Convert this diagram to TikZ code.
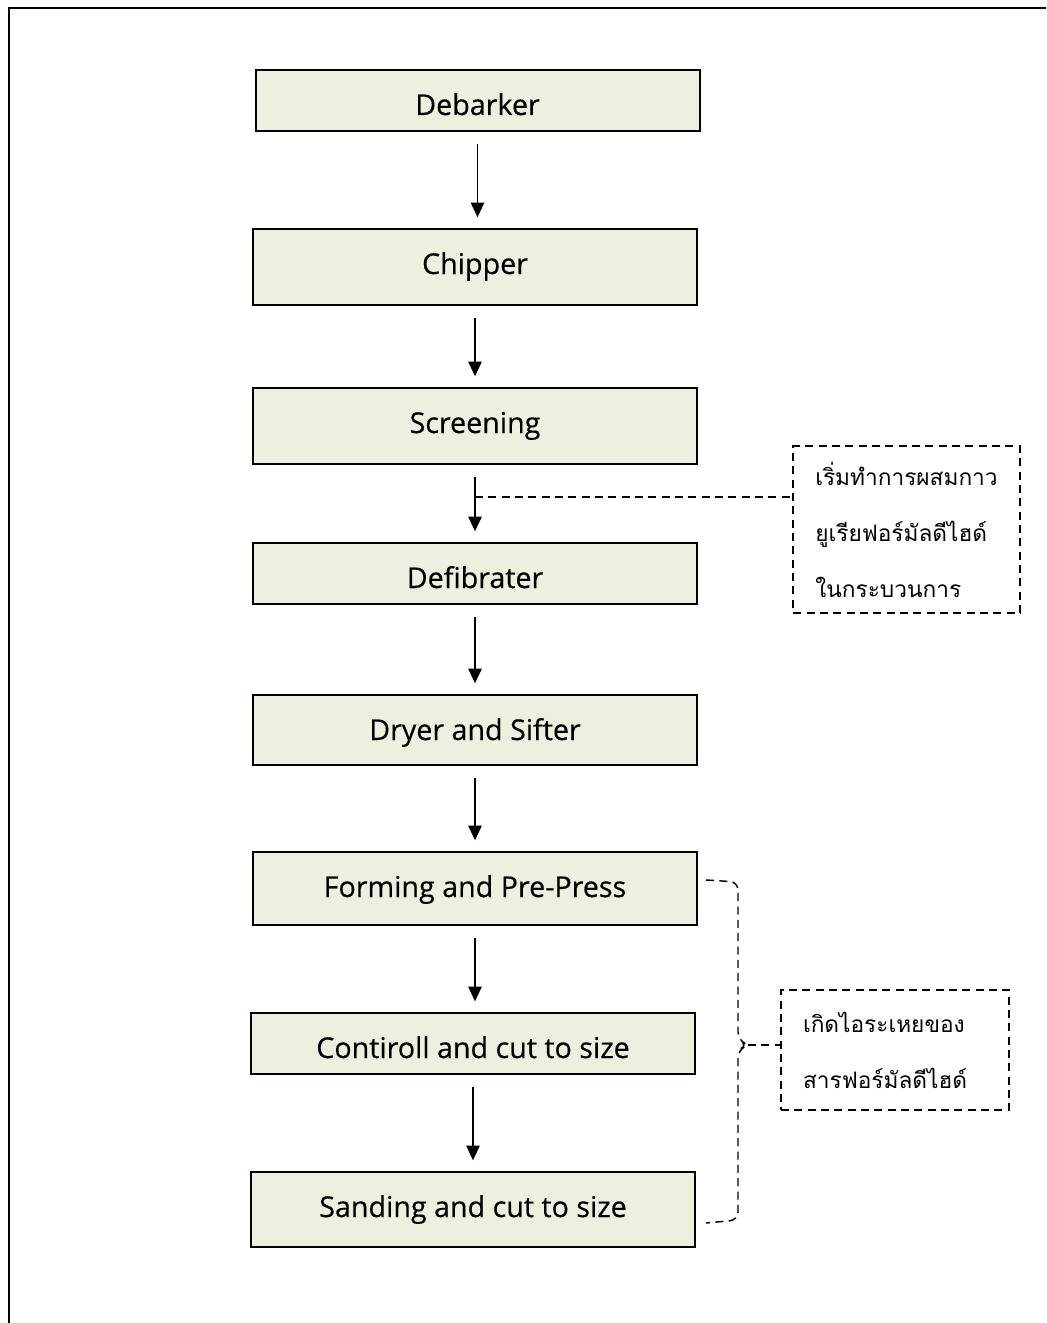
\documentclass[tikz,border=0pt]{standalone}
\usepackage{fontspec}
\setmainfont{Open Sans}
\newfontfamily\boxfont{Open Sans}[FakeBold=0.4]
\newfontfamily\thaifont[Script=Thai]{Loma}
\usetikzlibrary{arrows.meta,calc}
\definecolor{stepgreen}{RGB}{235,241,222}

\begin{document}
\begin{tikzpicture}[x=0.75pt, y=-0.75pt,
		stepbox/.style={draw=black, line width=1.5pt, fill=stepgreen, minimum width=333pt, inner sep=0pt, text height=33.75pt, text depth=#1, font=\boxfont\fontsize{21.5}{25}\selectfont},
		flow/.style={-{Triangle[length=11pt,width=10pt]}, line width=1.1pt, shorten <=9pt, shorten >=8pt},
		dashline/.style={line width=1.1pt, dash pattern=on 6pt off 4pt},
		notebox/.style={dashline, draw, align=left, inner sep=0pt, font=\thaifont\fontsize{17}{42}\selectfont}]
			%%%%% START %%%%%
			
			\useasboundingbox (0,0) rectangle (1046,1323);
			\draw[line width=1.3pt] (1046,8) -- (9,8) -- (9,1323);
			
			\node[stepbox=12pt] (debarker) at (477.5,100.5) {Debarker};
			\node[stepbox=23.25pt] (chipper) at (475,267) {Chipper};
			\node[stepbox=23.25pt] (screening) at (475,426) {Screening};
			\node[stepbox=12pt] (defibrater) at (475,573.5) {Defibrater};
			\node[stepbox=18.75pt] (dryer) at (475,730) {Dryer and Sifter};
			\node[stepbox=21pt] (forming) at (475,888.5) {Forming and Pre-Press};
			\node[stepbox=12pt] (contiroll) at (473,1043.5) {Contiroll and cut to size};
			\node[stepbox=22.5pt] (sanding) at (473,1209.5) {Sanding and cut to size};
			
			\draw[flow] (debarker.south) -- (debarker.south |- chipper.north);
			\draw[flow] (chipper.south) -- (chipper.south |- screening.north);
			\draw[flow] (screening.south) -- (screening.south |- defibrater.north);
			\draw[flow] (defibrater.south) -- (defibrater.south |- dryer.north);
			\draw[flow] (dryer.south) -- (dryer.south |- forming.north);
			\draw[flow] (forming.south) -- (forming.south |- contiroll.north);
			\draw[flow] (contiroll.south) -- (contiroll.south |- sanding.north);
			
			% glue mixing note
			\node[notebox, minimum width=170pt, minimum height=125pt] (mixnote) at (906.5,529.5) {เริ่มทำการผสมกาว\\ยูเรียฟอร์มัลดีไฮด์\\ในกระบวนการ};
			\coordinate (mixpt) at (475,497);
			\draw[dashline] (mixpt) -- (mixnote.west |- mixpt);
			
			% formaldehyde vapour note
			\node[notebox, minimum width=171pt, minimum height=90pt, text width=138pt] (vapnote) at (895,1050) {เกิดไอระเหยของ\\สารฟอร์มัลดีไฮด์};
			\coordinate (bracetip) at (748,1045);
			\draw[dashline, rounded corners=6pt] ($(forming.east)+(8,-8.5)$) -- (738,882) -- (738,1040) -- (bracetip) -- (738,1050) -- (738,1220) -- ($(sanding.east)+(10,13.5)$);
			\draw[dashline] (bracetip) -- (bracetip -| vapnote.west);
			
			%%%%% END %%%%%
		\end{tikzpicture}
\end{document}
